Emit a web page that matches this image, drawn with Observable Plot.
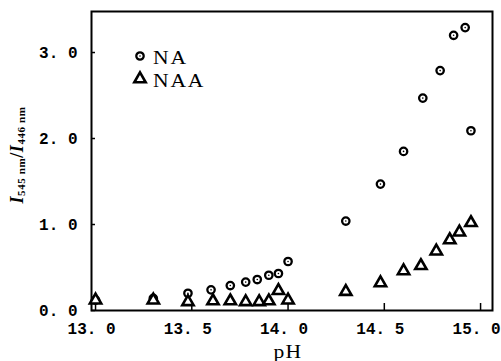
<!DOCTYPE html>
<html>
<head>
<meta charset="utf-8">
<script src="https://cdn.jsdelivr.net/npm/d3@7"></script>
<script src="https://cdn.jsdelivr.net/npm/@observablehq/plot@0.6"></script>
<style>
  html, body { margin: 0; padding: 0; background: #fff; }
  #chart { width: 501px; height: 361px; }
</style>
</head>
<body>
<div id="chart"></div>
<script>
// Series: NA (circles)
const naPH = [13.0, 13.3, 13.48, 13.6, 13.7, 13.78, 13.84, 13.9, 13.95, 14.0, 14.3, 14.48, 14.6, 14.7, 14.79, 14.86, 14.92, 14.95];
const naRatio = [0.12, 0.14, 0.20, 0.24, 0.29, 0.33, 0.36, 0.41, 0.43, 0.57, 1.04, 1.47, 1.85, 2.47, 2.79, 3.20, 3.29, 2.09];
// Series: NAA (triangles)
const naaPH = [13.0, 13.3, 13.48, 13.61, 13.7, 13.78, 13.85, 13.9, 13.95, 14.0, 14.3, 14.48, 14.6, 14.69, 14.77, 14.84, 14.89, 14.95];
const naaRatio = [0.12, 0.12, 0.10, 0.11, 0.11, 0.10, 0.10, 0.11, 0.23, 0.12, 0.22, 0.32, 0.46, 0.52, 0.69, 0.82, 0.91, 1.02];
// Ticks
const xTicks = [13.0, 13.5, 14.0, 14.5, 15.0];
const xTickLabels = ["13. 0", "13. 5", "14. 0", "14. 5", "15. 0"];
const yTicks = [0, 1, 2, 3];
const yTickLabels = ["0. 0", "1. 0", "2. 0", "3. 0"];
const seriesNames = ["NA", "NAA"];
const xLabel = "pH";

const na = naPH.map((x, i) => ({x, y: naRatio[i]}));
const naa = naaPH.map((x, i) => ({x, y: naaRatio[i]}));

const tickFont = "'Liberation Mono', monospace";
const plot = Plot.plot({
  width: 501,
  height: 361,
  marginLeft: 91,
  marginRight: 9,
  marginTop: 11,
  marginBottom: 51,
  style: {background: "#fff", color: "#000"},
  x: {domain: [12.979, 15.062]},
  y: {domain: [0, 3.477]},
  marks: [
    Plot.axisX(xTicks, {tickSize: -7, text: null, strokeWidth: 1.5, label: null}),
    Plot.axisX(xTicks, {tickSize: 0, tickPadding: 12, dx: -4, tickFormat: (d) => xTickLabels[xTicks.indexOf(d)],
      fontSize: 16, fontWeight: "bold", fontFamily: tickFont, label: null}),
    Plot.axisY(yTicks, {tickSize: -4, text: null, strokeWidth: 1.5, label: null}),
    Plot.axisY(yTicks, {tickSize: 0, tickPadding: 14, tickFormat: (d) => yTickLabels[yTicks.indexOf(d)],
      fontSize: 16, fontWeight: "bold", fontFamily: tickFont, label: null}),
    Plot.frame({stroke: "#000", strokeWidth: 2}),
    Plot.dot(na, {x: "x", y: "y", symbol: "circle", r: 3.7, stroke: "#000", strokeWidth: 2.3, fill: "#fff"}),
    Plot.dot(na, {x: "x", y: "y", symbol: "circle", r: 0.8, fill: "#000"}),
    Plot.dot(naa, {x: "x", y: "y", symbol: "triangle", r: 4.2, stroke: "#000", strokeWidth: 2.6, fill: "#fff"})
  ]
});
document.getElementById("chart").appendChild(plot);

const svg = d3.select(plot);
const serif = "'Liberation Serif', serif";
// x-axis title
svg.append("text")
  .attr("transform", "translate(288,358) scale(1.2,1)")
  .attr("text-anchor", "middle")
  .attr("font-family", serif)
  .attr("font-size", 18)
  .attr("letter-spacing", 1)
  .text(xLabel);

// y-axis title: I_545 nm / I_446 nm
const yl = svg.append("text")
  .attr("transform", "translate(23,155) rotate(-90)")
  .attr("text-anchor", "middle")
  .attr("font-family", serif)
  .attr("font-weight", "bold")
  .attr("letter-spacing", 0.6)
  .attr("font-size", 18);
yl.append("tspan").attr("font-style", "italic").text("I");
yl.append("tspan").attr("font-size", 11).attr("dy", 2).text("545 nm");
yl.append("tspan").attr("dy", -2).text("/");
yl.append("tspan").attr("font-style", "italic").text("I");
yl.append("tspan").attr("font-size", 11).attr("dy", 2).text("446 nm");

// Legend
const legendRows = [
  {name: seriesNames[0], sym: d3.symbolCircle, r: 3.7, sw: 2.3, y: 56},
  {name: seriesNames[1], sym: d3.symbolTriangle, r: 4.2, sw: 2.6, y: 79}
];
legendRows.forEach((row) => {
  svg.append("path")
    .attr("transform", `translate(140,${row.y})`)
    .attr("d", d3.symbol(row.sym, Math.PI * row.r * row.r)())
    .attr("fill", "#fff").attr("stroke", "#000")
    .attr("stroke-width", row.sw);
  if (row.sym === d3.symbolCircle) {
    svg.append("circle").attr("cx", 140).attr("cy", row.y).attr("r", 0.8).attr("fill", "#000");
  }
  svg.append("text")
    .attr("transform", `translate(153,${row.y + 7.5}) scale(1.2,1)`)
    .attr("text-anchor", "start")
    .attr("font-family", serif)
    .attr("font-size", 18)
    .attr("letter-spacing", 1.5)
    .text(row.name);
});
</script>
</body>
</html>
